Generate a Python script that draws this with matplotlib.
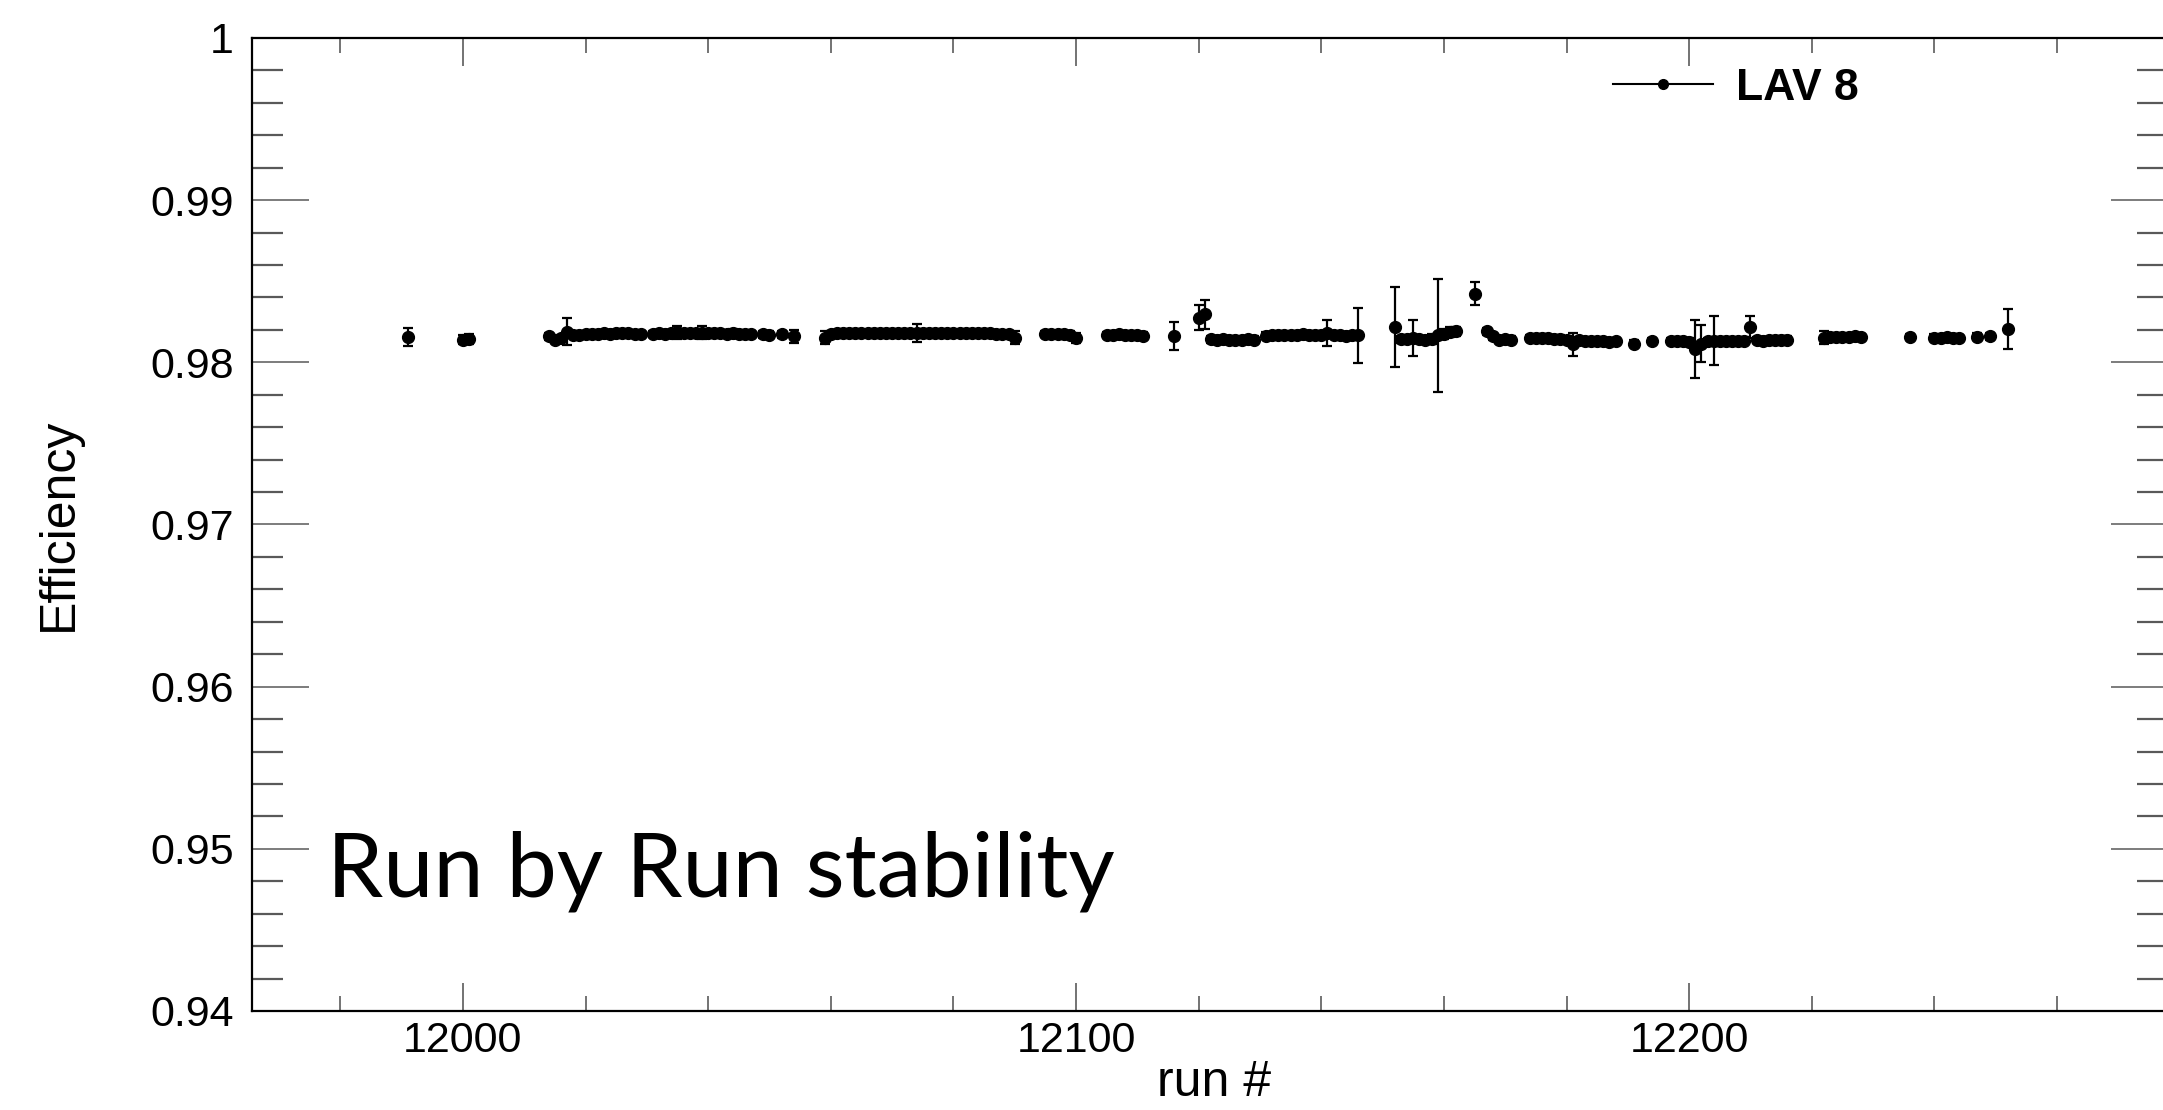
import matplotlib
matplotlib.use("Agg")
import matplotlib.pyplot as plt
from matplotlib.lines import Line2D
from matplotlib.ticker import MultipleLocator, FuncFormatter

# run numbers (one point per run, gaps = missing runs)
runs = [
    11991,
    12000, 12001,
    12014, 12015, 12016, 12017, 12018, 12019, 12020, 12021, 12022, 12023, 12024, 12025, 12026, 12027, 12028, 12029,
    12031, 12032, 12033, 12034, 12035, 12036, 12037, 12038, 12039, 12040, 12041, 12042, 12043, 12044, 12045, 12046,
    12047, 12049, 12050, 12052, 12054,
    12059, 12060, 12061, 12062, 12063, 12064, 12065, 12066, 12067, 12068, 12069, 12070, 12071, 12072, 12073, 12074,
    12075, 12076, 12077, 12078, 12079, 12080, 12081, 12082, 12083, 12084, 12085, 12086, 12087, 12088, 12089, 12090,
    12095, 12096, 12097, 12098, 12099, 12100,
    12105, 12106, 12107, 12108, 12109, 12110, 12111,
    12116, 12120, 12121,
    12122, 12123, 12124, 12125, 12126, 12127, 12128, 12129,
    12131, 12132, 12133, 12134, 12135, 12136, 12137, 12138, 12139, 12140, 12141, 12142, 12143, 12144, 12145, 12146,
    12152,
    12153, 12154, 12155, 12156,
    12157, 12158, 12159, 12160, 12161, 12162,
    12165,
    12167, 12168, 12169, 12170, 12171,
    12174, 12175, 12176, 12177, 12178, 12179, 12180, 12181, 12182, 12183, 12184, 12185, 12186, 12187, 12188,
    12191, 12194,
    12197, 12198, 12199, 12200, 12201, 12202, 12203, 12204, 12205, 12206, 12207, 12208,
    12209, 12210, 12211, 12212, 12213, 12214, 12215, 12216,
    12222, 12223, 12224, 12225, 12226, 12227, 12228,
    12236,
    12240, 12241, 12242, 12243, 12244,
    12247, 12249,
    12252,
]

# efficiency per run
eff = [
    0.98156,
    0.98140, 0.98142,
    0.98160, 0.98136, 0.98150, 0.98188, 0.98168, 0.98170, 0.98172, 0.98175, 0.98176, 0.98178, 0.98176, 0.98178, 0.98180, 0.98178, 0.98176, 0.98172,
    0.98176, 0.98180, 0.98176, 0.98180, 0.98185, 0.98180, 0.98178, 0.98180, 0.98182, 0.98180, 0.98178, 0.98180, 0.98176, 0.98178, 0.98174, 0.98172,
    0.98176, 0.98172, 0.98170, 0.98172, 0.98160,
    0.98150, 0.98176, 0.98180, 0.98178, 0.98180, 0.98182, 0.98180, 0.98178, 0.98180, 0.98182, 0.98180, 0.98178, 0.98180, 0.98180, 0.98178, 0.98180,
    0.98182, 0.98180, 0.98178, 0.98180, 0.98182, 0.98180, 0.98180, 0.98178, 0.98180, 0.98182, 0.98180, 0.98178, 0.98176, 0.98175, 0.98172, 0.98150,
    0.98173, 0.98176, 0.98174, 0.98172, 0.98170, 0.98150,
    0.98168, 0.98170, 0.98172, 0.98168, 0.98166, 0.98166, 0.98164,
    0.98160, 0.98274, 0.98296,
    0.98142, 0.98140, 0.98142, 0.98140, 0.98138, 0.98140, 0.98142, 0.98140,
    0.98164, 0.98166, 0.98168, 0.98170, 0.98168, 0.98170, 0.98172, 0.98170, 0.98168, 0.98170, 0.98180, 0.98168, 0.98166, 0.98164, 0.98166, 0.98166,
    0.98218,
    0.98142, 0.98145, 0.98150, 0.98142,
    0.98136, 0.98145, 0.98166, 0.98175, 0.98185, 0.98190,
    0.98424,
    0.98190, 0.98160, 0.98140, 0.98145, 0.98140,
    0.98150, 0.98148, 0.98152, 0.98150, 0.98145, 0.98146, 0.98140, 0.98110, 0.98135, 0.98132, 0.98130, 0.98132, 0.98130, 0.98128, 0.98130,
    0.98115, 0.98131,
    0.98131, 0.98133, 0.98130, 0.98128, 0.98082, 0.98115, 0.98130, 0.98133, 0.98131, 0.98133, 0.98131, 0.98130,
    0.98134, 0.98218, 0.98136, 0.98134, 0.98138, 0.98136, 0.98140, 0.98140,
    0.98150, 0.98156, 0.98158, 0.98155, 0.98158, 0.98160, 0.98156,
    0.98156,
    0.98152, 0.98150, 0.98155, 0.98152, 0.98150,
    0.98158, 0.98160,
    0.98208,
]

# statistical errors
err = [
    0.00056,
    0.0003, 0.0003,
    0.0002, 0.0002, 0.0002, 0.00083, 0.0002, 0.0002, 0.0002, 0.0002, 0.0002, 0.0002, 0.0002, 0.0002, 0.0002, 0.0002, 0.0002, 0.0002,
    0.0002, 0.0002, 0.0002, 0.0002, 0.0004, 0.0002, 0.0002, 0.0002, 0.0004, 0.0002, 0.0002, 0.0002, 0.0002, 0.0003, 0.0002, 0.0002,
    0.0002, 0.0002, 0.0002, 0.0002, 0.0004,
    0.0004, 0.0002, 0.0002, 0.0002, 0.0002, 0.0002, 0.0002, 0.0002, 0.0002, 0.0002, 0.0002, 0.0002, 0.0002, 0.0002, 0.0002, 0.00055,
    0.0002, 0.0002, 0.0002, 0.0002, 0.0002, 0.0002, 0.0002, 0.0002, 0.0002, 0.0002, 0.0002, 0.0002, 0.0002, 0.0002, 0.0002, 0.0004,
    0.0002, 0.0002, 0.0002, 0.0002, 0.0002, 0.0003,
    0.0002, 0.0002, 0.0002, 0.0002, 0.0002, 0.0002, 0.0002,
    0.00086, 0.00077, 0.0009,
    0.0002, 0.0002, 0.0002, 0.0002, 0.0002, 0.0002, 0.0002, 0.0002,
    0.0002, 0.0002, 0.0002, 0.0002, 0.0002, 0.0002, 0.0002, 0.0002, 0.0002, 0.0002, 0.0008, 0.0002, 0.0002, 0.0002, 0.0002, 0.0017,
    0.00247,
    0.0002, 0.0002, 0.0011, 0.0002,
    0.0002, 0.0003, 0.0035, 0.0003, 0.0003, 0.0003,
    0.0007,
    0.0002, 0.0002, 0.0002, 0.0002, 0.0002,
    0.0002, 0.0002, 0.0002, 0.0002, 0.0002, 0.0002, 0.0002, 0.0007, 0.0002, 0.0002, 0.0002, 0.0002, 0.0002, 0.0002, 0.0002,
    0.0002, 0.0002,
    0.0002, 0.0002, 0.0002, 0.0002, 0.00177, 0.00113, 0.0002, 0.0015, 0.0002, 0.0002, 0.0002, 0.0002,
    0.0002, 0.0007, 0.0002, 0.0002, 0.0002, 0.0002, 0.0002, 0.0002,
    0.0004, 0.0002, 0.0002, 0.0002, 0.0002, 0.0002, 0.0002,
    0.0002,
    0.0002, 0.0002, 0.0002, 0.0002, 0.0002,
    0.0002, 0.0002,
    0.00123,
]

plt.rcParams['font.family'] = ['Liberation Sans', 'DejaVu Sans']

fig = plt.figure(figsize=(21.63, 11.10), dpi=100)
ax = fig.add_axes([0.1165, 0.0892, 0.8858, 0.8766])

ax.errorbar(runs, eff, yerr=err, fmt='o', color='black', ms=8.5, ls='none',
            elinewidth=1.6, capsize=3.5, capthick=1.6)

ax.set_xlim(11965.6, 12278.1)
ax.set_ylim(0.94, 1.0)

# ROOT-like frame and ticks
for s in ax.spines.values():
    s.set_linewidth(1.6)
ax.xaxis.set_major_locator(MultipleLocator(100))
ax.xaxis.set_minor_locator(MultipleLocator(20))
ax.yaxis.set_major_locator(MultipleLocator(0.01))
ax.yaxis.set_minor_locator(MultipleLocator(0.002))
ax.yaxis.set_major_formatter(FuncFormatter(lambda v, p: f"{v:g}"))
ax.xaxis.set_major_formatter(FuncFormatter(lambda v, p: f"{v:.0f}"))

ax.tick_params(axis='x', which='both', direction='in', top=True, bottom=True,
               color='0.3', labelsize=31, pad=7)
ax.tick_params(axis='x', which='major', length=20, width=1.1)
ax.tick_params(axis='x', which='minor', length=11, width=1.1)
ax.tick_params(axis='y', which='both', direction='in', left=True, right=True,
               color='0.35', labelsize=31, pad=13)
ax.tick_params(axis='y', which='major', length=41, width=1.1)
ax.tick_params(axis='y', which='minor', length=22, width=1.6)

# axis titles
fig.text(59 / 2163, 1 - 524 / 1110, 'Efficiency', rotation=90,
         ha='center', va='center', fontsize=36)
fig.text(1214 / 2163, 1 - 1096 / 1110, 'run #', ha='center',
         va='baseline', fontsize=36)

# legend
handle = Line2D([], [], color='black', marker='o', ms=7, lw=1.5)
leg = fig.legend([handle], ['LAV 8'], loc='center left',
                 bbox_to_anchor=(1591 / 2163, 1 - 88 / 1110),
                 frameon=False, borderpad=0, handlelength=2.25,
                 handletextpad=0.52, prop={'weight': 'bold', 'size': 32})

# overlay caption
cap = fig.text(327 / 2163, 1 - 897 / 1110, 'Run by Run stability',
               ha='left', va='baseline', fontsize=70,
               family=['Lato', 'DejaVu Sans'])
r = fig.canvas.get_renderer()
w = cap.get_window_extent(r).width
cap.set_fontsize(70 * 788 / w)

fig.savefig('out.png', dpi=100)
